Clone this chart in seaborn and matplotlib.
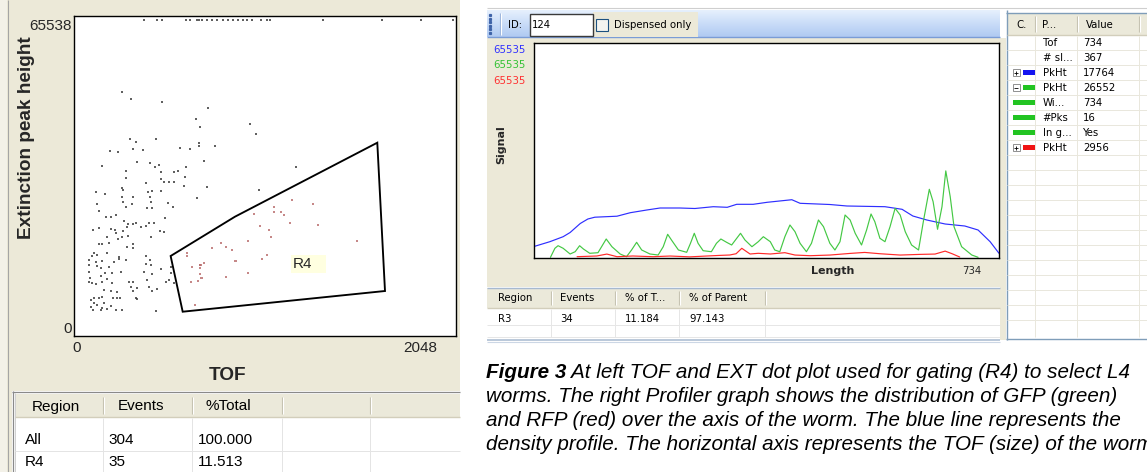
import numpy as np
import pandas as pd
import matplotlib
matplotlib.use("Agg")
import matplotlib.pyplot as plt
from matplotlib.patches import Rectangle, Polygon
from matplotlib.colors import LinearSegmentedColormap
import seaborn as sns

# ---------------- data: TOF / EXT dot plot ----------------
tof_out = [270, 324, 509, 709, 734, 316, 350, 473, 195, 247, 336, 394, 615, 675, 728, 728, 151, 360, 436, 466,
           490, 291, 500, 579, 605, 649, 291, 500, 519, 549, 579, 410, 639, 270, 276, 426, 446, 500, 115, 167,
           270, 336, 436, 276, 440, 545, 718, 118, 291, 330, 420, 446, 573, 131, 171, 205, 231, 281, 306, 336,
           350, 380, 410, 430, 460, 524, 131, 97, 201, 227, 276, 300, 231, 181, 270, 306, 494, 519, 440, 131,
           151, 191, 247, 300, 336, 336, 101, 91, 121, 181, 251, 251, 72, 112, 151, 221, 291, 410, 436, 72,
           121, 141, 191, 410, 440, 500, 72, 165, 211, 261, 400, 450, 559, 76, 141, 181, 72, 91, 112, 151,
           211, 310, 336, 420, 430, 450, 479, 530, 549, 321, 336, 356, 161, 201, 241, 82, 101, 131, 151, 217,
           237, 257, 350, 360, 85, 101, 121, 151, 161, 201, 231, 270, 470, 97, 141, 181, 559, 579,
           780, 1033, 1069, 824, 760, 1306, 774, 1087, 645]
ext_out = [51060, 49476, 48760, 45136, 43465, 40731, 40080, 40731, 38192, 37910, 38626, 38409, 38908, 38626,
           39993, 39342, 35002, 35740, 35523, 34785, 35154, 33917, 33700, 33700, 33917, 34655, 32268, 32116,
           31530, 31530, 31530, 31183, 30597, 30228, 29729, 29360, 29512, 29577, 29230, 28796, 28275, 28275,
           28275, 27190, 27190, 26973, 27928, 26691, 26105, 26626, 25888, 25888, 26105, 25172, 23805, 23935,
           24304, 23002, 22351, 22286, 22503, 21765, 21982, 22503, 22503, 23588, 21548, 21049, 21266, 21049,
           20897, 21765, 20333, 19595, 19595, 19747, 20897, 20680, 19595, 17946, 17946, 18163, 19031, 17425,
           17946, 17078, 16123, 15472, 15624, 15993, 15255, 14756, 14539, 14040, 14387, 14170, 14539, 15407,
           14539, 13454, 13237, 12738, 13085, 13606, 13454, 12521, 12000, 11783, 11783, 12000, 12000, 11501,
           13085, 10568, 11067, 10351, 9830, 9483, 9331, 9830, 9483, 9830, 9830, 10199, 8745, 7877, 8181,
           9830, 10199, 8745, 7812, 8398, 8029, 7877, 7530, 5859, 6228, 6228, 6445, 6228, 6228, 6358, 6228,
           6011, 4405, 5143, 4774, 4188, 5143, 4557, 3689, 3689, 3472, 3689, 3689, 3841, 11653, 9483,
           47588, 43986, 41946, 39277, 36022, 34720, 30445, 29664, 32615]
# saturated events (plotted along the top edge)
tof_sat = [400, 478, 507, 651, 675, 716, 728, 746, 776, 806, 836, 872, 901, 931, 961, 991, 1015, 1045,
           1098, 1134, 1152, 1469, 1821, 2054, 2245]
ext_sat = [66700, 66700, 66700, 66700, 66700, 66700, 66700, 66700, 66700, 66700, 66700, 66700, 66700,
           66700, 66700, 66700, 66700, 66700, 66700, 66700, 66700, 66700, 66700, 66700, 66700]
# events inside gate R4
tof_r4 = [1282, 1411, 1176, 1176, 1218, 1238, 1058, 1093, 1146, 1158, 1272, 1437, 1023, 860, 888, 927, 808,
          1673, 1133, 1106, 947, 760, 734, 734, 734, 744, 721, 1023, 888, 706, 658, 655, 688, 679, 738]
ext_r4 = [27494, 26626, 26040, 25020, 25020, 24239, 24456, 21917, 21049, 19595, 22633, 22134, 18662, 18293,
          17360, 16709, 17078, 18662, 15559, 14691, 14322, 13823, 13389, 12868, 11436, 10698, 9982, 11653,
          10915, 4709, 16123, 15407, 13085, 9700, 13454]
# gate R4 polygon vertices
gate_tof = [559, 631, 1839, 1793, 943]
gate_ext = [15407, 3320, 7812, 39993, 23935]
x_ticks = [0, 2048]
y_ticks = [0, 65538]

# left statistics table
left_cols = ["Region", "Events", "%Total"]
left_region = ["All", "R4"]
left_events = ["304", "35"]
left_pct = ["100.000", "11.513"]

# ---------------- data: profiler ----------------
blue_x = [0, 25, 46, 57, 73, 85, 96, 131, 152, 178, 199, 230, 254, 283, 305, 320, 346, 368, 407, 420, 467,
          494, 554, 581, 598, 620, 649, 680, 701, 720, 734]
blue_y = [3505, 4968, 6492, 7772, 10516, 11887, 12436, 12740, 13807, 14630, 15240, 15240, 15088, 15636,
          15454, 16368, 16368, 16978, 17764, 16673, 16307, 15850, 15636, 14844, 12802, 11582, 10363, 9754,
          8534, 4968, 1433]
green_x = [26, 33, 38, 46, 57, 65, 72, 78, 88, 101, 114, 123, 136, 146, 154, 162, 170, 183, 196, 204, 211,
           217, 228, 241, 247, 253, 259, 267, 280, 288, 295, 304, 312, 320, 326, 333, 344, 354, 362, 373, 380,
           388, 396, 404, 412, 420, 430, 438, 449, 457, 467, 475, 483, 491, 499, 507, 517, 525, 532, 538, 546,
           554, 562, 570, 578, 586, 596, 607, 615, 624, 630, 637, 644, 650, 657, 663, 675, 691, 701]
green_y = [213, 2957, 3749, 2957, 1219, 1920, 3749, 2743, 1433, 1615, 5791, 3444, 1219, 396, 2438, 4785,
           2438, 1219, 914, 3444, 7224, 5486, 2438, 1737, 4481, 7529, 4481, 2225, 1920, 4481, 5791, 4785,
           3962, 6005, 7529, 5486, 3444, 4968, 6492, 4968, 2438, 1920, 6492, 10058, 8016, 4481, 1920, 4481,
           11582, 9540, 4481, 2438, 4968, 13106, 11582, 7529, 3962, 8534, 13411, 11064, 6005, 4968, 9540,
           15149, 13106, 8016, 3962, 2438, 11582, 20940, 17160, 8748, 15636, 26552, 18684, 9540, 3444, 914, 213]
red_x = [68, 99, 115, 131, 156, 188, 215, 246, 273, 294, 309, 319, 328, 341, 354, 373, 396, 412, 436, 467,
         499, 522, 546, 578, 609, 633, 649, 660, 672]
red_y = [400, 610, 1200, 400, 610, 400, 600, 350, 610, 800, 914, 1300, 2956, 1219, 1430, 1219, 1620, 900,
         700, 900, 1400, 1700, 1300, 900, 1100, 1200, 2100, 1300, 300]
scale_labels = ["65535", "65535", "65535"]
length_max = "734"

# profiler region table
reg_cols = ["Region", "Events", "% of T...", "% of Parent"]
reg_row = ["R3", "34", "11.184", "97.143"]

# property table
prop_cols = ["C.", "P...", "Value"]
prop_names = ["Tof", "# sl...", "PkHt", "PkHt", "Wi...", "#Pks", "In g...", "PkHt"]
prop_values = ["734", "367", "17764", "26552", "734", "16", "Yes", "2956"]
prop_colors = [None, None, "blue", "green", "green", "green", "green", "red"]
prop_expand = ["", "", "+", "-", "", "", "", "+"]

caption = [
    ("Figure 3", " At left TOF and EXT dot plot used for gating (R4) to select L4"),
    ("", "worms. The right Profiler graph shows the distribution of GFP (green)"),
    ("", "and RFP (red) over the axis of the worm. The blue line represents the"),
    ("", "density profile. The horizontal axis represents the TOF (size) of the worm."),
]

# ---------------- styling ----------------
sns.set_style("white")
plt.rcParams["font.family"] = ["Liberation Sans", "DejaVu Sans"]

W, H = 1147, 472
fig = plt.figure(figsize=(W / 100, H / 100), dpi=100)
fig.patch.set_facecolor("white")

BEIGE = "#ECE9D8"
BLUEGRAY = "#7F9DB9"
UI = "DejaVu Sans"
UIS = 7.3


def frect(l, t, r, b):
    return [l / W, 1 - b / H, (r - l) / W, (b - t) / H]


bg = fig.add_axes([0, 0, 1, 1])
bg.set_xlim(0, W)
bg.set_ylim(H, 0)
bg.axis("off")
bg.set_zorder(-5)


def box(l, t, r, b, fc="none", ec="none", lw=0.0, z=1):
    bg.add_patch(Rectangle((l, t), r - l, b - t, facecolor=fc, edgecolor=ec, linewidth=lw, zorder=z))


def hline(x0, x1, y, c, lw=0.75, z=2):
    bg.plot([x0, x1], [y, y], color=c, lw=lw, zorder=z, solid_capstyle="butt")


def vline(x, y0, y1, c, lw=0.75, z=2):
    bg.plot([x, x], [y0, y1], color=c, lw=lw, zorder=z, solid_capstyle="butt")


def txt(x, y, s, size=UIS, ha="left", color="black", family=UI, weight="normal", style="normal", z=5):
    return bg.text(x, y, s, fontsize=size, ha=ha, va="center", color=color, family=family,
                   fontweight=weight, fontstyle=style, zorder=z)


# ================= LEFT PANEL =================
box(0, 0, 460, 472, fc=BEIGE, z=0)
box(0, 0, 7, 472, fc="#F3F1E8", z=0.5)
vline(7.5, 0, 472, "#A5A5A5", lw=0.8)

ax1 = fig.add_axes(frect(74, 16, 456, 336))
ax1.set_facecolor("white")
df = pd.DataFrame({
    "TOF": tof_out + tof_sat + tof_r4,
    "EXT": ext_out + ext_sat + ext_r4,
    "gate": ["out"] * (len(tof_out) + len(tof_sat)) + ["R4"] * len(tof_r4),
})
sns.scatterplot(data=df, x="TOF", y="EXT", hue="gate", palette={"out": "#3a3a3a", "R4": "#b86a6a"},
                marker="s", s=2.6, linewidth=0, alpha=0.8, legend=False, ax=ax1)
ax1.add_patch(Polygon(np.column_stack([gate_tof, gate_ext]), closed=True, fill=False,
                      edgecolor="black", linewidth=1.35, zorder=4))
ax1.add_patch(Rectangle((1276, 11783), 211, 3841, facecolor="#FFFFE0", edgecolor="none", zorder=3))
ax1.text(1290, 13600, "R4", fontsize=11, va="center", ha="left", family="Liberation Sans", zorder=5)
ax1.set_xlim(-18, 2263)
ax1.set_ylim(-1953, 67491)
ax1.set_xticks(x_ticks)
ax1.set_xticklabels([str(v) for v in x_ticks])
ax1.set_yticks(y_ticks)
ax1.set_yticklabels([str(v) for v in y_ticks])
ax1.tick_params(axis="both", length=0, labelsize=11)
ax1.tick_params(axis="x", pad=3.5)
ax1.tick_params(axis="y", pad=1.5)
for sp in ax1.spines.values():
    sp.set_color("black")
    sp.set_linewidth(1.0)
ax1.set_xlabel("TOF", fontsize=13.7, fontweight="bold")
ax1.set_ylabel("Extinction peak height", fontsize=13.7, fontweight="bold")
ax1.xaxis.set_label_coords((228 - 74) / 382, (336 - 375) / 320)
ax1.yaxis.set_label_coords((27 - 74) / 382, (336 - 138) / 320)
ax1.xaxis.label.set_va("center")
ax1.yaxis.label.set_va("center")

# left table
box(12, 391, 460, 472, fc="white", z=1)
vline(12.5, 391, 472, "#8A8A8A", lw=0.9)
hline(12, 460, 391.5, "#8A8A8A", lw=0.9)
vline(14.5, 393, 472, "#D0D0D0", lw=0.7)
box(15, 394, 460, 417, fc="#EBE9DA", z=1)
hline(15, 460, 417, "#D2CEBB", lw=1.0)
for xc in [103.3, 192.3, 281.7, 370]:
    vline(xc, 397, 414, "#C3C0AE", lw=0.8)
    vline(xc + 1, 397, 414, "white", lw=0.8)
    vline(xc, 418, 472, "#E4E4E4", lw=0.7)
hline(15, 460, 450.5, "#E4E4E4", lw=0.7)
for xh, s in zip([32, 118, 205], left_cols):
    txt(xh, 406.5, s, size=11, family="Liberation Sans")
for i in range(len(left_region)):
    yy = 440 + 22 * i
    txt(25, yy, left_region[i], size=11, family="Liberation Sans")
    txt(108, yy, left_events[i], size=11, family="Liberation Sans")
    txt(198, yy, left_pct[i], size=11, family="Liberation Sans")

# ================= RIGHT PANEL =================
hline(487, 1147, 7.5, "#CFCFCF", lw=0.8)
cm = LinearSegmentedColormap.from_list("tb", ["#E6F0FD", "#C9DCF8", "#B0CAF2"])
bg.imshow(np.linspace(0, 1, 40)[:, None], extent=[487, 1000, 37, 10], cmap=cm, aspect="auto",
          interpolation="bilinear", zorder=1)
bg.set_xlim(0, W)
bg.set_ylim(H, 0)
hline(487, 1000, 37, "#7A9CD6", lw=1.0)
box(593, 12, 698, 37, fc=BEIGE, z=2)
bg.plot([490, 490, 490, 490, 490, 490], [15, 18.5, 22, 25.5, 29, 32.5], ls="none", marker="s", ms=1.3,
        color="#3E63A8", zorder=3)
vline(500, 13, 35, "#9AB3DC", lw=0.8)
vline(501, 13, 35, "white", lw=0.8)
txt(508, 24.5, "ID:")
box(530, 14, 593, 36, fc="white", ec="#3A3A3A", lw=1.0, z=3)
txt(532, 24.5, "124")
box(595.5, 18.5, 607.5, 30.5, fc="#F4F4F0", ec="#1C5180", lw=0.8, z=3)
txt(614, 24.5, "Dispensed only")

# profiler panel
box(487, 37.5, 1000, 287, fc=BEIGE, z=0)
hline(487, 1000, 287.5, "#A7B9D0", lw=1.0)
ax2 = fig.add_axes(frect(534, 43, 999, 258))
ax2.set_facecolor("white")
sns.lineplot(x=blue_x, y=blue_y, color="#2E2EFF", lw=0.85, ax=ax2)
sns.lineplot(x=green_x, y=green_y, color="#44C844", lw=0.85, ax=ax2)
sns.lineplot(x=red_x, y=red_y, color="#FF2A2A", lw=0.85, ax=ax2)
ax2.set_xlim(0, 734)
ax2.set_ylim(0, 65535)
ax2.set_xticks([])
ax2.set_yticks([])
for sp in ax2.spines.values():
    sp.set_color("black")
    sp.set_linewidth(1.0)
ax2.set_xlabel("")
ax2.set_ylabel("")
ax2.text((832.5 - 534) / 465, (258 - 270.7) / 215, "Length", transform=ax2.transAxes, ha="center",
         va="center", fontsize=8, fontweight="bold", family=UI)
ax2.text((971.5 - 534) / 465, (258 - 270.5) / 215, length_max, transform=ax2.transAxes, ha="center",
         va="center", fontsize=UIS, family=UI)
ax2.text((501 - 534) / 465, (258 - 145) / 215, "Signal", transform=ax2.transAxes, ha="center",
         va="center", fontsize=8, fontweight="bold", family=UI, rotation=90)
for lab, col, yy in zip(scale_labels, ["#3030FF", "#33C233", "#FF3030"], [50, 65, 80.5]):
    ax2.text((525.7 - 534) / 465, (258 - yy) / 215, lab, transform=ax2.transAxes, ha="right",
             va="center", fontsize=UIS, family=UI, color=col)

# region table under profiler
box(487, 288, 1000, 340, fc="white", z=1)
box(487, 288, 1000, 308, fc="#EBE9DA", z=1)
hline(487, 1000, 308, "#D2CEBB", lw=1.0)
for xc in [551, 615, 679, 765]:
    vline(xc, 291, 305, "#C3C0AE", lw=0.8)
    vline(xc + 1, 291, 305, "white", lw=0.8)
    vline(xc, 309, 337, "#E6E6E6", lw=0.7)
hline(487, 1000, 324.5, "#E6E6E6", lw=0.7)
hline(487, 1000, 337, "#E6E6E6", lw=0.7)
hline(487, 1000, 339.5, "#A7B9D0", lw=1.1)
hline(487, 1000, 342, "#CCD7E5", lw=0.8)
for xc, h, v in zip([498, 560, 625, 689], reg_cols, reg_row):
    txt(xc, 298, h)
    txt(xc, 318.5, v)

# property table
box(1000, 37.5, 1006, 340, fc=BEIGE, z=0)
box(1006, 13, 1147, 338, fc="white", z=1)
vline(1006.5, 10, 340, BLUEGRAY, lw=1.0)
hline(1006, 1147, 12.5, BLUEGRAY, lw=1.0)
box(1007, 13, 1147, 35, fc="#EBE9DA", z=1)
hline(1007, 1147, 35, "#D2CEBB", lw=1.0)
for xc in [1035, 1077, 1139]:
    vline(xc, 16, 32, "#C3C0AE", lw=0.8)
    vline(xc + 1, 16, 32, "white", lw=0.8)
    vline(xc, 36, 337, "#E9E7DC", lw=0.7)
for k in range(19):
    hline(1007, 1147, 50 + 15 * k, "#E9E7DC", lw=0.7)
hline(1006, 1147, 338.5, BLUEGRAY, lw=1.0)
for xc, s in zip([1021.7, 1049, 1100], prop_cols):
    txt(xc, 24.5, s, ha="center")
cmap_prop = {"blue": "#1414F0", "green": "#22C422", "red": "#F01414"}
for i in range(len(prop_names)):
    yy = 42.7 + 15 * i
    txt(1042.7, yy, prop_names[i])
    txt(1083.3, yy, prop_values[i])
    c = prop_colors[i]
    if prop_expand[i]:
        box(1012.5, yy - 3.5, 1019.5, yy + 3.5, fc="white", ec="#7F7F7F", lw=0.6, z=3)
        hline(1014, 1018, yy, "black", lw=0.6, z=4)
        if prop_expand[i] == "+":
            vline(1016, yy - 2, yy + 2, "black", lw=0.6, z=4)
        box(1022.7, yy - 2.5, 1035, yy + 2.5, fc=cmap_prop[c], z=3)
    elif c is not None:
        box(1012.7, yy - 2.5, 1035, yy + 2.5, fc=cmap_prop[c], z=3)

# ================= CAPTION =================
fig.canvas.draw()
inv = bg.transData.inverted()
for i, (bold_part, rest) in enumerate(caption):
    yy = 373 + 24 * i
    x_start = 486
    if bold_part:
        t = txt(x_start, yy, bold_part, size=14.9, family="Liberation Sans", weight="bold", style="italic")
        fig.canvas.draw()
        bb = t.get_window_extent()
        x_start = inv.transform((bb.x1, bb.y0))[0]
    txt(x_start, yy, rest, size=14.9, family="Liberation Sans", style="italic")

fig.savefig("out.png", dpi=100, facecolor="white")
